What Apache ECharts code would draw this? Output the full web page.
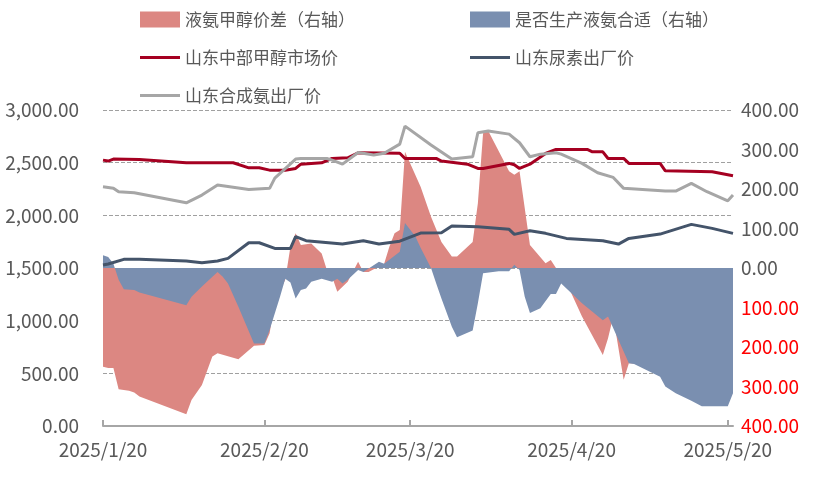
<!DOCTYPE html>
<html><head><meta charset="utf-8">
<script src="https://cdn.jsdelivr.net/npm/echarts@6/dist/echarts.min.js"></script>
<style>html,body{margin:0;padding:0;background:#fff}#c{width:815px;height:489px}</style>
</head><body><div id="c"></div>
<script>
const startDate = '2025/1/20', endDate = '2025/5/21';
const leftTicks = {min:0, max:3000, interval:500};
const rightTicks = {min:-400, max:400, interval:100};

const spreadDates = ['1/20','1/21','1/22','1/23','1/25','1/26','1/27','2/5','2/6','2/8','2/10','2/11','2/15','2/18','2/20','2/21','2/22','2/24','2/25','2/26','2/27','3/1','3/3','3/4','3/5','3/6','3/8','3/10','3/11','3/12','3/15','3/16','3/17','3/18','3/19','3/22','3/24','3/26','3/28','3/29','4/1','4/2','4/3','4/4','4/8','4/9','4/10','4/12','4/15','4/16','4/17','4/18','4/19','4/22','4/26','4/27','4/28','4/30','5/1','5/7','5/21'];
const spreadValues = [-250,-253,-253,-307,-311,-315,-325,-370,-334,-296,-224,-216,-231,-197,-195,-165,-85,-30,54,88,58,62,37,-5,-22,-60,-35,16,-10,-10,11,54,88,96,294,206,130,66,29,29,66,164,341,347,245,236,245,58,12,20,0,0,-37,-123,-220,-178,-123,-283,-241,-245,-250];

const suitDates = ['1/20','1/21','1/22','1/23','1/24','1/26','1/27','2/5','2/6','2/8','2/11','2/12','2/13','2/15','2/18','2/20','2/21','2/23','2/24','2/25','2/26','2/27','2/28','3/1','3/3','3/5','3/6','3/7','3/8','3/10','3/11','3/14','3/15','3/18','3/19','3/21','3/22','3/24','3/25','3/26','3/28','3/29','4/1','4/2','4/3','4/6','4/8','4/9','4/10','4/11','4/12','4/14','4/16','4/17','4/18','4/22','4/26','4/27','5/1','5/2','5/7','5/8','5/10','5/13','5/15','5/20','5/21'];
const suitValues = [32,28,11,-30,-54,-56,-62,-94,-73,-47,-10,-22,-39,-98,-191,-191,-157,-73,-27,-37,-77,-56,-52,-35,-27,-35,-27,-39,-30,-5,-10,16,11,41,114,80,51,0,-39,-77,-149,-175,-158,-89,-13,-8,-8,8,-5,-73,-114,-102,-66,-66,-39,-89,-132,-123,-241,-243,-275,-300,-317,-336,-350,-350,-317];

const methanolDates = ['1/20','1/21','1/22','1/27','2/5','2/14','2/17','2/19','2/21','2/24','2/26','2/27','3/3','3/5','3/8','3/10','3/18','3/19','3/25','3/26','3/31','4/2','4/3','4/8','4/9','4/10','4/12','4/15','4/17','4/23','4/24','4/26','4/27','4/30','5/1','5/7','5/8','5/17','5/21'];
const methanolValues = [2524,2515,2534,2530,2499,2499,2451,2451,2429,2429,2445,2486,2499,2540,2546,2594,2590,2540,2540,2515,2486,2445,2445,2493,2480,2445,2486,2588,2626,2626,2603,2603,2540,2540,2493,2493,2423,2413,2376];

const ureaDates = ['1/20','1/21','1/24','1/27','2/5','2/8','2/11','2/13','2/17','2/19','2/22','2/25','2/26','2/28','3/7','3/11','3/14','3/18','3/22','3/26','3/28','4/2','4/8','4/9','4/12','4/15','4/19','4/26','4/29','5/1','5/7','5/9','5/13','5/17','5/21'];
const ureaValues = [1528,1538,1582,1582,1566,1550,1566,1591,1740,1740,1686,1686,1797,1759,1727,1759,1727,1755,1832,1835,1898,1892,1867,1819,1853,1829,1781,1759,1727,1781,1822,1853,1914,1876,1829];

const ammoniaDates = ['1/20','1/22','1/23','1/26','2/5','2/8','2/11','2/17','2/21','2/22','2/26','2/27','3/4','3/5','3/7','3/10','3/13','3/15','3/18','3/19','3/24','3/28','4/1','4/2','4/4','4/8','4/10','4/12','4/14','4/17','4/18','4/22','4/25','4/28','4/30','5/8','5/10','5/13','5/16','5/20','5/21'];
const ammoniaValues = [2271,2258,2224,2215,2119,2192,2287,2246,2256,2353,2534,2540,2540,2524,2486,2597,2572,2590,2676,2847,2667,2534,2556,2784,2800,2771,2689,2556,2581,2594,2581,2493,2404,2360,2256,2230,2230,2303,2224,2138,2192];

const categories = [];
for (let d = new Date(2025,0,20); d <= new Date(2025,4,21); d.setDate(d.getDate()+1)) {
  categories.push('2025/' + (d.getMonth()+1) + '/' + d.getDate());
}
function build(dates, vals){
  const m = {}; dates.forEach((k,i)=>{ m['2025/'+k] = vals[i]; });
  return categories.map(c => (c in m) ? m[c] : null);
}
const isTick = (i, v) => /\/20$/.test(v);
const F = '"Noto Sans CJK SC", sans-serif';
const txt = {color:'#595959', fontSize:17, fontFamily:F};
const axTxt = {color:'#595959', fontSize:19, fontFamily:F};

const chart = echarts.init(document.getElementById('c'));
const mkLegend = (name, left, top, icon) => ({
  data:[name], left, top, icon, itemWidth:40, itemHeight: icon==='rect'?16:3,
  textStyle: txt, itemGap: 0
});
chart.setOption({
  animation:false,
  legend:[
    mkLegend('液氨甲醇价差（右轴）',135,6,'rect'),
    mkLegend('是否生产液氨合适（右轴）',465,6,'rect'),
    mkLegend('山东中部甲醇市场价',135,44,'path://M0,0H40V3H0Z'),
    mkLegend('山东尿素出厂价',465,44,'path://M0,0H40V3H0Z'),
    mkLegend('山东合成氨出厂价',135,82,'path://M0,0H40V3H0Z')
  ],
  grid:{left:103,right:82,top:110,bottom:63},
  xAxis:{type:'category',data:categories,boundaryGap:false,
    axisLine:{lineStyle:{color:'#A6A6A6',width:2}},
    axisTick:{interval:isTick,inside:true,length:6,lineStyle:{color:'#A6A6A6',width:2}},
    axisLabel:Object.assign({interval:isTick,margin:14},axTxt)},
  yAxis:[
    {type:'value',min:leftTicks.min,max:leftTicks.max,interval:leftTicks.interval,
     axisLabel:Object.assign({formatter:v=>v.toLocaleString('en-US',{minimumFractionDigits:2,maximumFractionDigits:2}),margin:24},axTxt),
     splitLine:{lineStyle:{type:'dashed',color:'#A0A0A0'}},axisLine:{show:false},axisTick:{show:false}},
    {type:'value',min:rightTicks.min,max:rightTicks.max,interval:rightTicks.interval,
     axisLabel:{formatter:v=>Math.abs(v).toFixed(2),fontSize:19,fontFamily:F,margin:8,
       color:v=>(+v<0?'#FF0000':'#595959')},
     splitLine:{show:false},axisLine:{show:false},axisTick:{show:false}}
  ],
  series:[
    {name:'液氨甲醇价差（右轴）',type:'line',yAxisIndex:1,data:build(spreadDates,spreadValues),connectNulls:true,
     symbol:'none',lineStyle:{width:0},itemStyle:{color:'#DC8782'},areaStyle:{color:'#DC8782',opacity:1}},
    {name:'是否生产液氨合适（右轴）',type:'line',yAxisIndex:1,data:build(suitDates,suitValues),connectNulls:true,
     symbol:'none',lineStyle:{width:0},itemStyle:{color:'#7A8FB0'},areaStyle:{color:'#7A8FB0',opacity:1}},
    {name:'山东中部甲醇市场价',type:'line',data:build(methanolDates,methanolValues),connectNulls:true,
     symbol:'none',lineStyle:{width:3,color:'#A50021'},itemStyle:{color:'#A50021'}},
    {name:'山东尿素出厂价',type:'line',data:build(ureaDates,ureaValues),connectNulls:true,
     symbol:'none',lineStyle:{width:3,color:'#44546A'},itemStyle:{color:'#44546A'}},
    {name:'山东合成氨出厂价',type:'line',data:build(ammoniaDates,ammoniaValues),connectNulls:true,
     symbol:'none',lineStyle:{width:3,color:'#A6A6A6'},itemStyle:{color:'#A6A6A6'}}
  ]
});
</script></body></html>
